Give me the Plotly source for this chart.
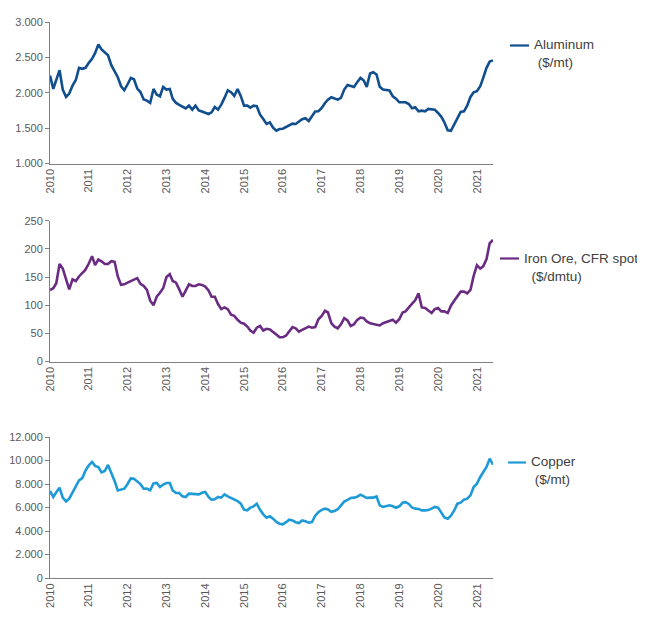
import pandas as pd
import plotly.graph_objects as go

dates = pd.date_range("2010-01-01", periods=138, freq="MS")

aluminum = [
    2243, 2054, 2180, 2319, 2045, 1940, 1988, 2100, 2180, 2352, 2338, 2352,
    2423, 2480, 2560, 2683, 2612, 2565, 2530, 2390, 2300, 2220, 2092, 2035,
    2120, 2210, 2190, 2060, 2010, 1905, 1889, 1856, 2054, 1974, 1950, 2083,
    2045, 2054, 1913, 1856, 1830, 1805, 1780, 1818, 1761, 1818, 1750, 1735,
    1720, 1700, 1723, 1799, 1761, 1832, 1927, 2035, 2007, 1955, 2054, 1955,
    1818, 1818, 1790, 1818, 1810, 1690, 1630, 1560, 1582, 1505, 1463, 1487,
    1492, 1520, 1534, 1563, 1558, 1586, 1625, 1640, 1600, 1667, 1735, 1738,
    1785, 1856, 1903, 1936, 1917, 1903, 1927, 2045, 2110, 2101, 2083, 2150,
    2210, 2173, 2083, 2272, 2290, 2258, 2083, 2045, 2035, 2031, 1950, 1917,
    1865, 1870, 1865, 1840, 1780, 1794, 1738, 1747, 1738, 1771, 1761, 1761,
    1714, 1660, 1580, 1470, 1463, 1548, 1643, 1728, 1738, 1818, 1941, 2007,
    2021, 2092, 2210, 2352, 2440, 2456,
]

iron_ore = [
    127, 130, 139, 173, 165, 145, 128, 146, 143, 151, 158, 163,
    174, 187, 171, 181, 178, 173, 173, 178, 177, 151, 136, 137,
    140, 143, 146, 148, 138, 134, 127, 108, 100, 115, 122, 130,
    150, 155, 143, 140, 128, 115, 126, 137, 134, 134, 137, 136,
    133, 126, 115, 115, 102, 93, 96, 93, 83, 81, 74, 69,
    67, 62, 55, 51, 60, 63, 55, 58, 57, 53, 48, 43,
    43, 46, 54, 61, 59, 53, 56, 59, 62, 60, 61, 75,
    81, 90, 87, 68, 62, 59, 66, 77, 73, 63, 66, 74,
    78, 77, 71, 68, 67, 66, 64, 68, 70, 73, 74, 69,
    75, 87, 89, 96, 102, 109, 121, 96, 95, 91, 86, 93,
    95, 89, 89, 86, 99, 108, 115, 124, 124, 121, 127, 152,
    171, 165, 169, 182, 210, 216,
]

copper = [
    7404, 6900, 7300, 7690, 6840, 6525, 6750, 7319, 7800, 8300, 8500, 9150,
    9600, 9872, 9540, 9447, 8990, 9106, 9620, 8950, 8250, 7450, 7546, 7603,
    8000, 8480, 8454, 8200, 7990, 7600, 7603, 7461, 8050, 8085, 7745, 7943,
    8085, 8085, 7450, 7234, 7234, 6950, 6894, 7177, 7177, 7120, 7120, 7250,
    7319, 6900, 6667, 6700, 6894, 6837, 7120, 6950, 6809, 6667, 6553, 6326,
    5816, 5759, 5986, 6099, 6326, 5800, 5418, 5135, 5248, 5050, 4766, 4624,
    4567, 4750, 4965, 4900, 4750, 4681, 4900, 4823, 4709, 4766, 5300, 5600,
    5800, 5900, 5830, 5630, 5700, 5850, 6200, 6500, 6650, 6809, 6840, 6920,
    7092, 6950, 6809, 6837, 6837, 6950, 6184, 6043, 6099, 6184, 6099, 5980,
    6100, 6400, 6450, 6300, 6000, 5901, 5880, 5759, 5759, 5780, 5900, 6043,
    5986, 5500, 5150, 5050, 5300, 5750, 6326, 6411, 6667, 6752, 7035, 7745,
    8028, 8596, 9021, 9447, 10156, 9645,
]

series_names = ["Aluminum", "Iron Ore, CFR spot", "Copper"]
units = ["($/mt)", "($/dmtu)", "($/mt)"]
unit_indent = [1, 2, 1]
colors = ["#114E8D", "#6A2C82", "#1E9AD6"]
series = [aluminum, iron_ore, copper]
yranges = [[1000, 3000], [0, 250], [0, 12000]]
dticks = [500, 50, 2000]

# The page body has an 8px default margin; lay out in window pixels and shift.
OFF = 8
W, H = 645 - OFF, 642 - OFF


def px_x(v):
    return (v - OFF) / W


def px_y(v):
    return 1 - (v - OFF) / H


x0, x1 = px_x(50), px_x(493)
ydoms = [
    [px_y(163.5), px_y(22)],
    [px_y(361.5), px_y(220.7)],
    [px_y(578), px_y(437)],
]
# legend key: (line x start, line x end, line y, text x, text block center y) in window px
legend_px = [
    (510, 529, 45.5, 532, 53),
    (500, 519, 258.5, 522, 267.5),
    (508, 526, 462.5, 529, 470),
]

fig = go.Figure()
axis_color = "#808080"
font_fam = "Liberation Sans, Arial, sans-serif"
tick_font = dict(family=font_fam, size=11, color="#595959")
leg_font = dict(family=font_fam, size=13.5, color="#404040")

layout = dict(
    width=W, height=H,
    margin=dict(l=0, r=0, t=0, b=0, autoexpand=False),
    paper_bgcolor="white", plot_bgcolor="white",
    separators=",.",
    showlegend=False,
)
shapes, annotations = [], []

for i in range(3):
    sfx = "" if i == 0 else str(i + 1)
    fig.add_trace(go.Scatter(
        x=dates, y=series[i], mode="lines", name=series_names[i],
        line=dict(color=colors[i], width=2.6),
        xaxis="x" + sfx, yaxis="y" + sfx,
    ))
    layout["xaxis" + sfx] = dict(
        domain=[x0, x1], anchor="y" + sfx,
        range=[dates[0], dates[-1]],
        tickformat="%Y", dtick="M12", tick0="2010-01-01",
        tickangle=-90, showgrid=False, zeroline=False,
        showline=True, linecolor=axis_color, linewidth=1,
        ticks="", tickfont=tick_font, automargin=False,
    )
    layout["yaxis" + sfx] = dict(
        domain=ydoms[i], anchor="x" + sfx,
        range=yranges[i], dtick=dticks[i], tick0=0,
        showgrid=False, zeroline=False,
        showline=True, linecolor=axis_color, linewidth=1,
        ticks="outside", ticklen=4, tickcolor=axis_color,
        tickfont=tick_font, tickformat=",d", automargin=False,
    )
    lx0, lx1, ly, tx, ty = legend_px[i]
    shapes.append(dict(
        type="line", xref="paper", yref="paper",
        x0=px_x(lx0), x1=px_x(lx1), y0=px_y(ly), y1=px_y(ly),
        line=dict(color=colors[i], width=2.2),
    ))
    annotations.append(dict(
        xref="paper", yref="paper", x=px_x(tx), y=px_y(ty),
        xanchor="left", yanchor="middle", align="left", showarrow=False,
        text=series_names[i] + "<br>" + "&nbsp;" * unit_indent[i] + units[i],
        font=leg_font,
    ))

layout["shapes"] = shapes
layout["annotations"] = annotations
fig.update_layout(**layout)
fig.write_html("out.html")
